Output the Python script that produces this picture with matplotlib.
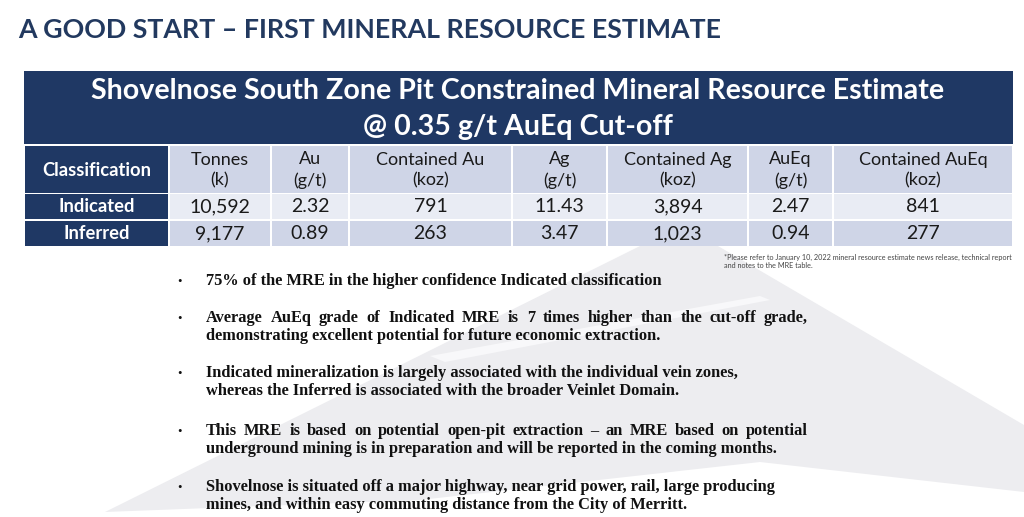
import matplotlib
matplotlib.use("Agg")
import matplotlib.pyplot as plt
from matplotlib.patches import Rectangle, Polygon

# ---- data ----
page_title = "A GOOD START \u2013 FIRST MINERAL RESOURCE ESTIMATE"
table_title = ["Shovelnose South Zone Pit Constrained Mineral Resource Estimate",
               "@ 0.35 g/t AuEq Cut-off"]
headers = ["Classification", "Tonnes\n(k)", "Au\n(g/t)", "Contained Au\n(koz)",
           "Ag\n(g/t)", "Contained Ag\n(koz)", "AuEq\n(g/t)", "Contained AuEq\n(koz)"]
classes = ["Indicated", "Inferred"]
tonnes = [10592, 9177]
au = [2.32, 0.89]
cont_au = [791, 263]
ag = [11.43, 3.47]
cont_ag = [3894, 1023]
aueq = [2.47, 0.94]
cont_aueq = [841, 277]
footnote = ["*Please refer to January 10, 2022 mineral resource estimate news release, technical report",
            "and notes to the MRE table."]
bullets = [
    ["75% of the MRE in the higher confidence Indicated classification"],
    ["Average AuEq grade of Indicated MRE is 7 times higher than the cut-off grade,",
     "demonstrating excellent potential for future economic extraction."],
    ["Indicated mineralization is largely associated with the individual vein zones,",
     "whereas the Inferred is associated with the broader Veinlet Domain."],
    ["This MRE is based on potential open-pit extraction \u2013 an MRE based on potential",
     "underground mining is in preparation and will be reported in the coming months."],
    ["Shovelnose is situated off a major highway, near grid power, rail, large producing",
     "mines, and within easy commuting distance from the City of Merritt."],
]
justified = [[False], [True, False], [False, False], [True, False], [False, False]]

# ---- layout / style ----
NAVY = "#1f3864"
HEAD = "#cfd5e7"
ROW_LIGHT = "#e9ecf4"
ROW_DARK = "#cfd5e7"
col_x = [24, 169, 271, 349, 512, 607, 748, 833, 1013]
SANS = "Lato"
SERIF = "Liberation Serif"

fig = plt.figure(figsize=(10.24, 5.17), dpi=100)
ax = fig.add_axes([0, 0, 1, 1])
ax.set_xlim(0, 1024)
ax.set_ylim(517, 0)
ax.axis("off")
fig.patch.set_facecolor("white")

# faint background wedges
ax.add_patch(Polygon([(105, 512), (640, 246), (718, 246), (1024, 425), (1024, 492),
                      (760, 462), (420, 500)], closed=True, fc="#ededf0", ec="none", zorder=0))
ax.add_patch(Polygon([(430, 356), (760, 296), (770, 300), (445, 362)], closed=True,
                     fc="#f8f8fa", ec="none", zorder=0))

# page title
ax.text(18, 30, page_title, fontsize=19.3, fontweight="bold", color="#22395f",
        family=SANS, va="center", ha="left")

# table title box
ax.add_patch(Rectangle((col_x[0], 71), col_x[-1] - col_x[0], 73, fc=NAVY, ec="none"))
ax.text(518, 91, table_title[0], fontsize=20.6, fontweight="bold", color="white",
        family=SANS, ha="center", va="center")
ax.text(518, 127, table_title[1], fontsize=20.6, fontweight="bold", color="white",
        family=SANS, ha="center", va="center")

# header row
gap = 1.2
for i, h in enumerate(headers):
    x0, x1 = col_x[i] + gap, col_x[i + 1] - gap
    fc = NAVY if i == 0 else HEAD
    ax.add_patch(Rectangle((x0, 146), x1 - x0, 47, fc=fc, ec="none"))
    if i == 0:
        ax.text((x0 + x1) / 2, 170, h, fontsize=13.2, fontweight="bold", color="white",
                family=SANS, ha="center", va="center")
    else:
        ax.text((x0 + x1) / 2, 170, h, fontsize=13, color="#1a1a1a", family=SANS,
                ha="center", va="center", linespacing=1.35)

# data rows
cols = [tonnes, au, cont_au, ag, cont_ag, aueq, cont_aueq]
fmts = ["{:,}", "{:.2f}", "{:,}", "{:.2f}", "{:,}", "{:.2f}", "{:,}"]
row_y = [(194, 25), (221, 25)]
for r, name in enumerate(classes):
    y0, hgt = row_y[r]
    ax.add_patch(Rectangle((col_x[0] + gap, y0), col_x[1] - col_x[0] - 2 * gap, hgt,
                           fc=NAVY, ec="none"))
    ax.text((col_x[0] + col_x[1]) / 2, y0 + hgt / 2, name, fontsize=13.2, fontweight="bold",
            color="white", family=SANS, ha="center", va="center")
    for c, vals in enumerate(cols):
        x0, x1 = col_x[c + 1] + gap, col_x[c + 2] - gap
        ax.add_patch(Rectangle((x0, y0), x1 - x0, hgt,
                               fc=ROW_LIGHT if r == 0 else ROW_DARK, ec="none"))
        ax.text((x0 + x1) / 2, y0 + hgt / 2, fmts[c].format(vals[r]), fontsize=14,
                color="#1a1a1a", family=SANS, ha="center", va="center")

# footnote
for k, line in enumerate(footnote):
    ax.text(724, 257 + 9 * k, line, fontsize=5.2, color="#444444", family=SANS,
            ha="left", va="center")

# bullets
fig.canvas.draw()
renderer = fig.canvas.get_renderer()
BX, TX, TXR = 179, 206, 808
bullet_y = [[281], [318, 336], [373, 391], [431, 449], [487, 505]]
fs = 11.8
for b, lines in enumerate(bullets):
    ax.text(BX, bullet_y[b][0] + 1, "\u2022", fontsize=9, color="#111111", family=SERIF,
            ha="center", va="center")
    for k, line in enumerate(lines):
        y = bullet_y[b][k]
        if justified[b][k]:
            words = line.split(" ")
            ts = [ax.text(0, y, w, fontsize=fs, fontweight="bold", color="#111111",
                          family=SERIF, ha="left", va="center") for w in words]
            widths = [t.get_window_extent(renderer).width for t in ts]
            space = (TXR - TX - sum(widths)) / (len(words) - 1)
            x = TX
            for t, w in zip(ts, widths):
                t.set_x(x)
                x += w + space
        else:
            ax.text(TX, y, line, fontsize=fs, fontweight="bold", color="#111111",
                    family=SERIF, ha="left", va="center")

fig.savefig("out.png", dpi=100, facecolor="white")
